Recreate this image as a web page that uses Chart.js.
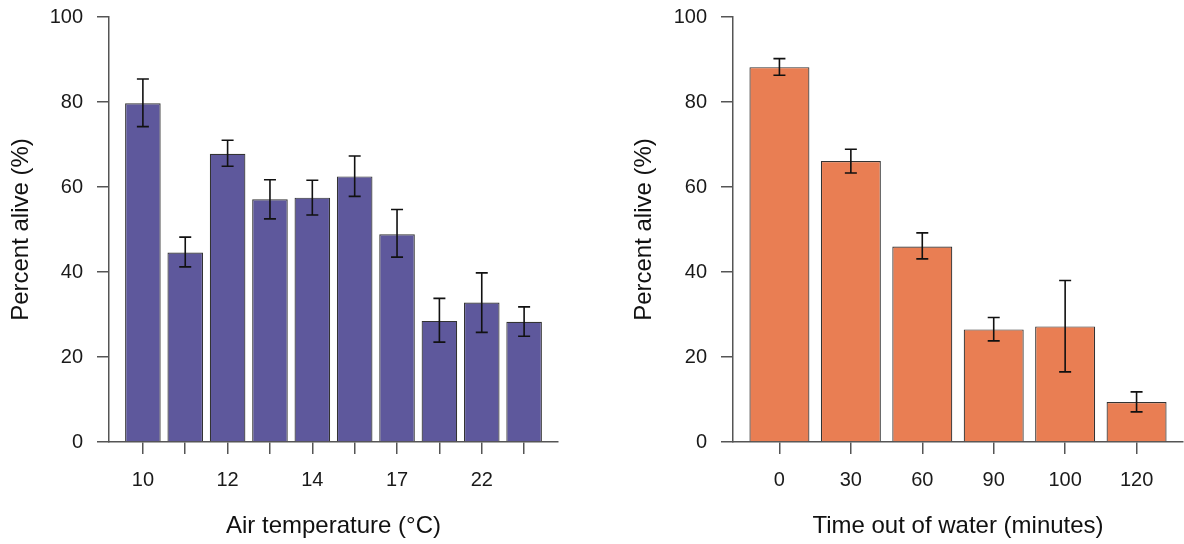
<!DOCTYPE html>
<html>
<head>
<meta charset="utf-8">
<script src="https://cdn.jsdelivr.net/npm/chart.js@4/dist/chart.umd.min.js"></script>
<style>
  body { margin: 0; background: #fff; }
  .panel { position: absolute; top: 0; width: 592px; height: 544px; }
</style>
</head>
<body>
<div class="panel" style="left:0"><canvas id="temp-chart" width="592" height="544"></canvas></div>
<div class="panel" style="left:592px"><canvas id="time-chart" width="592" height="544"></canvas></div>
<script>
// air temperature panel (only every other label is printed in the original)
const tempLabels = ['10', '', '12', '', '14', '', '17', '', '22', ''];
const tempAlive = [79.7, 44.6, 67.8, 57.1, 57.5, 62.5, 48.9, 28.5, 32.8, 28.3];
const tempLow = [74.2, 41.2, 64.9, 52.5, 53.4, 57.8, 43.5, 23.5, 25.8, 24.9];
const tempHigh = [85.4, 48.2, 71.0, 61.7, 61.6, 67.3, 54.7, 33.8, 39.8, 31.8];

// time out of water panel
const timeLabels = ['0', '30', '60', '90', '100', '120'];
const timeAlive = [88.2, 66.1, 46.0, 26.5, 27.2, 9.4];
const timeLow = [86.3, 63.3, 43.1, 23.8, 16.5, 7.1];
const timeHigh = [90.2, 68.9, 49.2, 29.3, 38.0, 11.8];

const yTicks = [0, 20, 40, 60, 80, 100];

const FONT = 'Liberation Sans, Arial, Helvetica, sans-serif';
const AXIS = '#555';

const errorBars = {
    id: 'errorBars',
    afterDatasetsDraw(chart, args, opts) {
        const { ctx, scales: { x, y } } = chart;
        ctx.save();
        ctx.strokeStyle = '#111';
        ctx.lineWidth = 1.6;
        opts.low.forEach((lo, i) => {
            const px = x.getPixelForValue(i);
            const y1 = y.getPixelForValue(lo);
            const y2 = y.getPixelForValue(opts.high[i]);
            ctx.beginPath();
            ctx.moveTo(px, y1); ctx.lineTo(px, y2);
            ctx.moveTo(px - 6, y1); ctx.lineTo(px + 6, y1);
            ctx.moveTo(px - 6, y2); ctx.lineTo(px + 6, y2);
            ctx.stroke();
        });
        ctx.restore();
    }
};

function makeChart(id, labels, values, low, high, color, xTitle, box) {
    const n = labels.length;
    return new Chart(document.getElementById(id), {
        type: 'bar',
        data: {
            datasets: [{
                data: values.map((v, i) => ({ x: i, y: v })),
                backgroundColor: color,
                borderColor: '#333',
                borderWidth: 1.2,
                barPercentage: 0.84,
                categoryPercentage: 1
            }]
        },
        options: {
            responsive: false,
            animation: false,
            devicePixelRatio: 1,
            layout: { padding: { top: 17, right: box.padRight, left: 0, bottom: 0 } },
            plugins: {
                legend: { display: false },
                tooltip: { enabled: false },
                errorBars: { low, high }
            },
            scales: {
                x: {
                    type: 'linear',
                    min: -box.edge,
                    max: n - 1 + box.edge,
                    offset: false,
                    afterBuildTicks: s => { s.ticks = labels.map((_, i) => ({ value: i })); },
                    afterFit: s => { s.height = 102; s.paddingLeft = 0; s.paddingRight = 0; },
                    border: { display: true, color: AXIS, width: 1.5 },
                    grid: { offset: false, drawOnChartArea: false, drawTicks: true, tickLength: 12, tickColor: AXIS, lineWidth: 1.5 },
                    ticks: {
                        autoSkip: false, maxRotation: 0, padding: 14,
                        color: '#1a1a1a', font: { family: FONT, size: 20 },
                        callback: v => labels[v] ?? ''
                    },
                    title: {
                        display: true, text: xTitle, color: '#111',
                        font: { family: FONT, size: 24 }, padding: { top: 0, bottom: 3 }
                    }
                },
                y: {
                    min: 0, max: 100,
                    afterBuildTicks: s => { s.ticks = yTicks.map(v => ({ value: v })); },
                    afterFit: s => { s.width = box.yWidth; s.paddingTop = 0; s.paddingBottom = 0; },
                    border: { display: true, color: AXIS, width: 1.5 },
                    grid: { drawOnChartArea: false, drawTicks: true, tickLength: 12, tickColor: AXIS, lineWidth: 1.5 },
                    ticks: { padding: 14, color: '#1a1a1a', font: { family: FONT, size: 20 } },
                    title: {
                        display: true, text: 'Percent alive (%)', color: '#111',
                        font: { family: FONT, size: 24 }, padding: { top: box.titlePad, bottom: 0 }
                    }
                }
            }
        },
        plugins: [errorBars]
    });
}

makeChart('temp-chart', tempLabels, tempAlive, tempLow, tempHigh, '#5e589c',
    'Air temperature (°C)', { yWidth: 109, padRight: 34, edge: 0.8, titlePad: 7 });
makeChart('time-chart', timeLabels, timeAlive, timeLow, timeHigh, '#e97e53',
    'Time out of water (minutes)', { yWidth: 141, padRight: 1, edge: 0.65, titlePad: 38 });
</script>
</body>
</html>
